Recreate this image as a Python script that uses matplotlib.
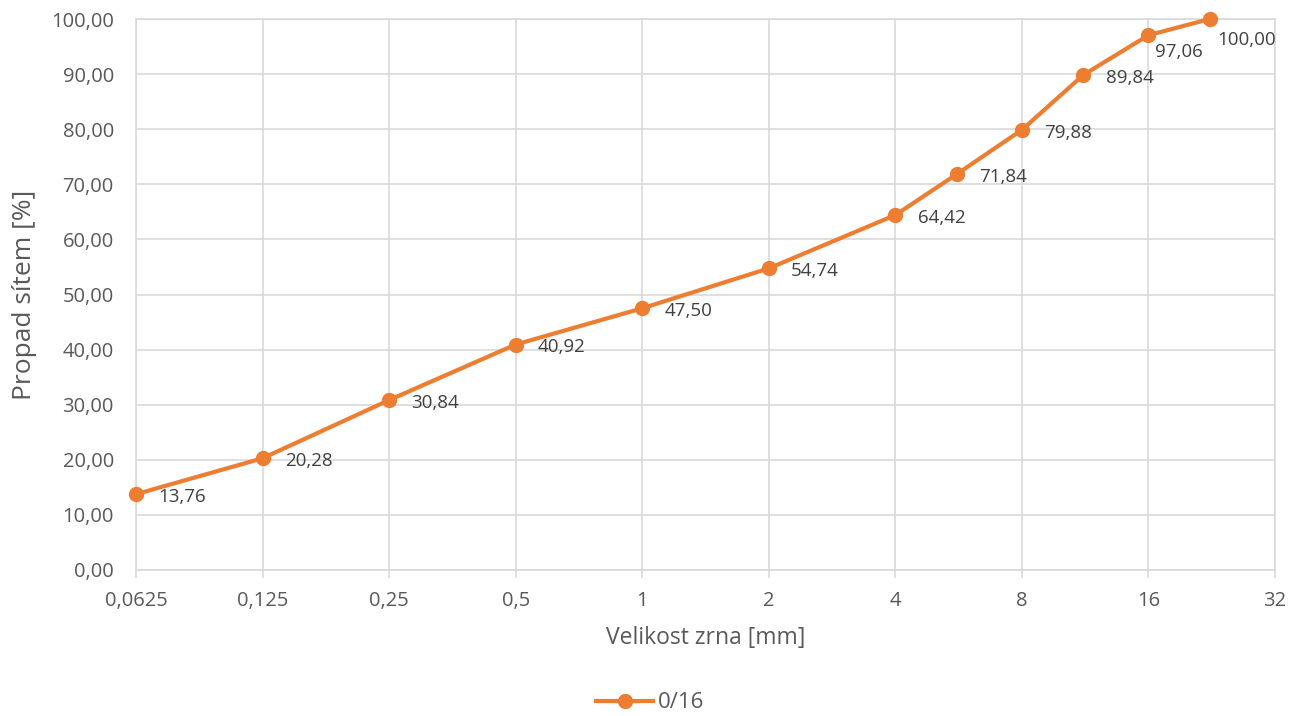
import numpy as np
import matplotlib.pyplot as plt

# data - sitovy rozbor 0/16
sita = [0.0625, 0.125, 0.25, 0.5, 1, 2, 4, 5.6, 8, 11.2, 16, 22.4]
propad = [13.76, 20.28, 30.84, 40.92, 47.50, 54.74, 64.42, 71.84, 79.88, 89.84, 97.06, 100.00]
x_ticks = [0.0625, 0.125, 0.25, 0.5, 1, 2, 4, 8, 16, 32]
x_labels = ["0,0625", "0,125", "0,25", "0,5", "1", "2", "4", "8", "16", "32"]
y_ticks = np.arange(0, 101, 10)

barva = "#ED7D31"
seda = "#595959"
plt.rcParams['font.family'] = ['Open Sans', 'DejaVu Sans']

fig = plt.figure(figsize=(13, 7.16), dpi=100)
ax = fig.add_axes([136 / 1300, 1 - 570 / 716, (1275 - 136) / 1300, (570 - 19) / 716])

ax.plot(sita, propad, color=barva, lw=3, marker='o', ms=10, label="0/16", zorder=3, clip_on=False)

# popisky bodu
for i, (xv, yv) in enumerate(zip(sita, propad)):
    lab = f"{yv:.2f}".replace(".", ",")
    if i == len(sita) - 1:
        off = (5, -15)
    elif i == len(sita) - 2:
        off = (5, -12)
    else:
        off = (16, -2)
    ax.annotate(lab, (xv, yv), xytext=off, textcoords='offset points',
                ha='left', va='center', fontsize=13.5, color="#404040")

ax.set_xscale('log', base=2)
ax.set_xlim(0.0625, 32)
ax.set_ylim(0, 100)
ax.set_xticks(x_ticks)
ax.set_xticklabels(x_labels)
ax.minorticks_off()
ax.set_yticks(y_ticks)
ax.set_yticklabels([f"{v:.2f}".replace(".", ",") for v in y_ticks])

ax.grid(True, color="#D9D9D9", lw=1.2)
ax.set_axisbelow(True)
for s in ['top', 'right', 'left', 'bottom']:
    ax.spines[s].set_color("#D9D9D9")
    ax.spines[s].set_linewidth(1.2)
ax.tick_params(axis='y', length=0, pad=16, labelsize=14.5, labelcolor=seda)
ax.tick_params(axis='x', length=6, color="#D9D9D9", width=1.2, pad=9, labelsize=14.5, labelcolor=seda)

ax.set_xlabel("Velikost zrna [mm]", fontsize=16.5, color=seda, labelpad=11)
ax.set_ylabel("Propad sítem [%]", fontsize=19, color=seda, labelpad=10)

fig.legend(loc='center', bbox_to_anchor=(650 / 1300, 1 - 703 / 716), frameon=False,
           fontsize=16, labelcolor=seda, handlelength=2.6, handletextpad=0.2)

fig.savefig("out.png", dpi=100)
